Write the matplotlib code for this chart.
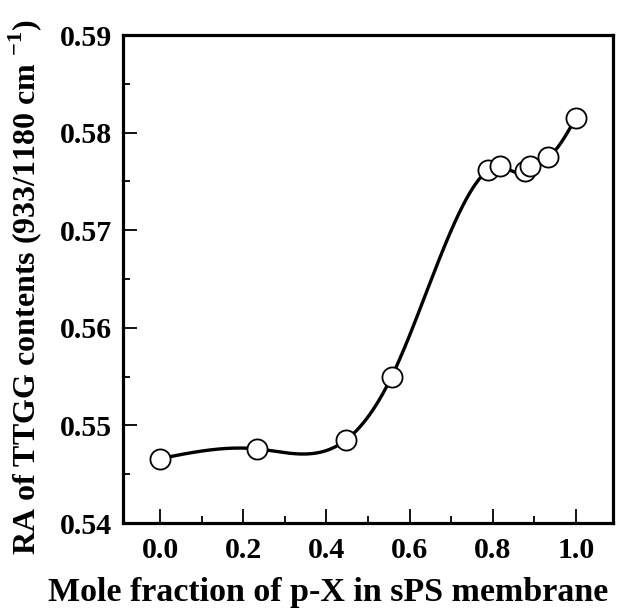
import numpy as np
import matplotlib
matplotlib.use("Agg")
import matplotlib.pyplot as plt
from matplotlib.ticker import MultipleLocator

# Data
mole_fraction = [0.0, 0.232, 0.447, 0.557, 0.790, 0.817, 0.877, 0.889, 0.933, 1.0]
ra_ttgg = [0.5466, 0.5476, 0.5485, 0.5550, 0.5762, 0.5766, 0.5761, 0.5766, 0.5775, 0.5815]
x_ticks = [0.0, 0.2, 0.4, 0.6, 0.8, 1.0]
y_ticks = [0.54, 0.55, 0.56, 0.57, 0.58, 0.59]


def natural_cubic_spline(x, y, xs):
    x = np.asarray(x, float)
    y = np.asarray(y, float)
    n = len(x)
    h = np.diff(x)
    A = np.zeros((n, n))
    b = np.zeros(n)
    A[0, 0] = 1
    A[-1, -1] = 1
    for i in range(1, n - 1):
        A[i, i - 1] = h[i - 1]
        A[i, i] = 2 * (h[i - 1] + h[i])
        A[i, i + 1] = h[i]
        b[i] = 3 * ((y[i + 1] - y[i]) / h[i] - (y[i] - y[i - 1]) / h[i - 1])
    c = np.linalg.solve(A, b)
    bb = np.zeros(n - 1)
    d = np.zeros(n - 1)
    for i in range(n - 1):
        bb[i] = (y[i + 1] - y[i]) / h[i] - h[i] * (2 * c[i] + c[i + 1]) / 3
        d[i] = (c[i + 1] - c[i]) / (3 * h[i])
    idx = np.clip(np.searchsorted(x, xs) - 1, 0, n - 2)
    dx = xs - x[idx]
    return y[idx] + bb[idx] * dx + c[idx] * dx ** 2 + d[idx] * dx ** 3


plt.rcParams['font.family'] = ['Liberation Serif', 'DejaVu Serif']
plt.rcParams['mathtext.fontset'] = 'custom'
plt.rcParams['mathtext.rm'] = 'Liberation Serif:bold'
plt.rcParams['mathtext.bf'] = 'Liberation Serif:bold'

fig = plt.figure(figsize=(6.2, 6.1), dpi=100)
ax = fig.add_axes([0.198, 0.1426, 0.791, 0.800])

xs = np.linspace(mole_fraction[0], mole_fraction[-1], 400)
ys = natural_cubic_spline(mole_fraction, ra_ttgg, xs)
ax.plot(xs, ys, color='black', lw=2.4, zorder=2)
ax.plot(mole_fraction, ra_ttgg, 'o', ms=14.5, mfc='white', mec='black', mew=1.3, zorder=3)

ax.set_xlim(-0.09, 1.09)
ax.set_ylim(0.54, 0.59)
ax.set_xticks(x_ticks)
ax.set_yticks(y_ticks)
ax.set_xticklabels([f"{v:.1f}" for v in x_ticks])
ax.set_yticklabels([f"{v:.2f}" for v in y_ticks])
ax.xaxis.set_minor_locator(MultipleLocator(0.1))
ax.yaxis.set_minor_locator(MultipleLocator(0.005))
ax.tick_params(which='both', direction='in', top=False, right=False, width=1.3)
ax.tick_params(which='major', length=10, labelsize=21.5)
ax.tick_params(axis='x', which='major', pad=10)
ax.tick_params(axis='y', which='major', pad=8)
ax.tick_params(which='minor', length=5)
for lab in ax.get_xticklabels() + ax.get_yticklabels():
    lab.set_fontweight('bold')
for s in ax.spines.values():
    s.set_linewidth(2.3)

ax.set_xlabel('Mole fraction of p-X in sPS membrane', fontsize=24.5, fontweight='bold')
ax.xaxis.set_label_coords(0.418, -0.11)
ax.set_ylabel(r'RA of TTGG contents (933/1180 cm $^{-1}$)', fontsize=23, fontweight='bold')
ax.yaxis.set_label_coords(-0.16, 0.483)

fig.savefig('out.png', dpi=100)
